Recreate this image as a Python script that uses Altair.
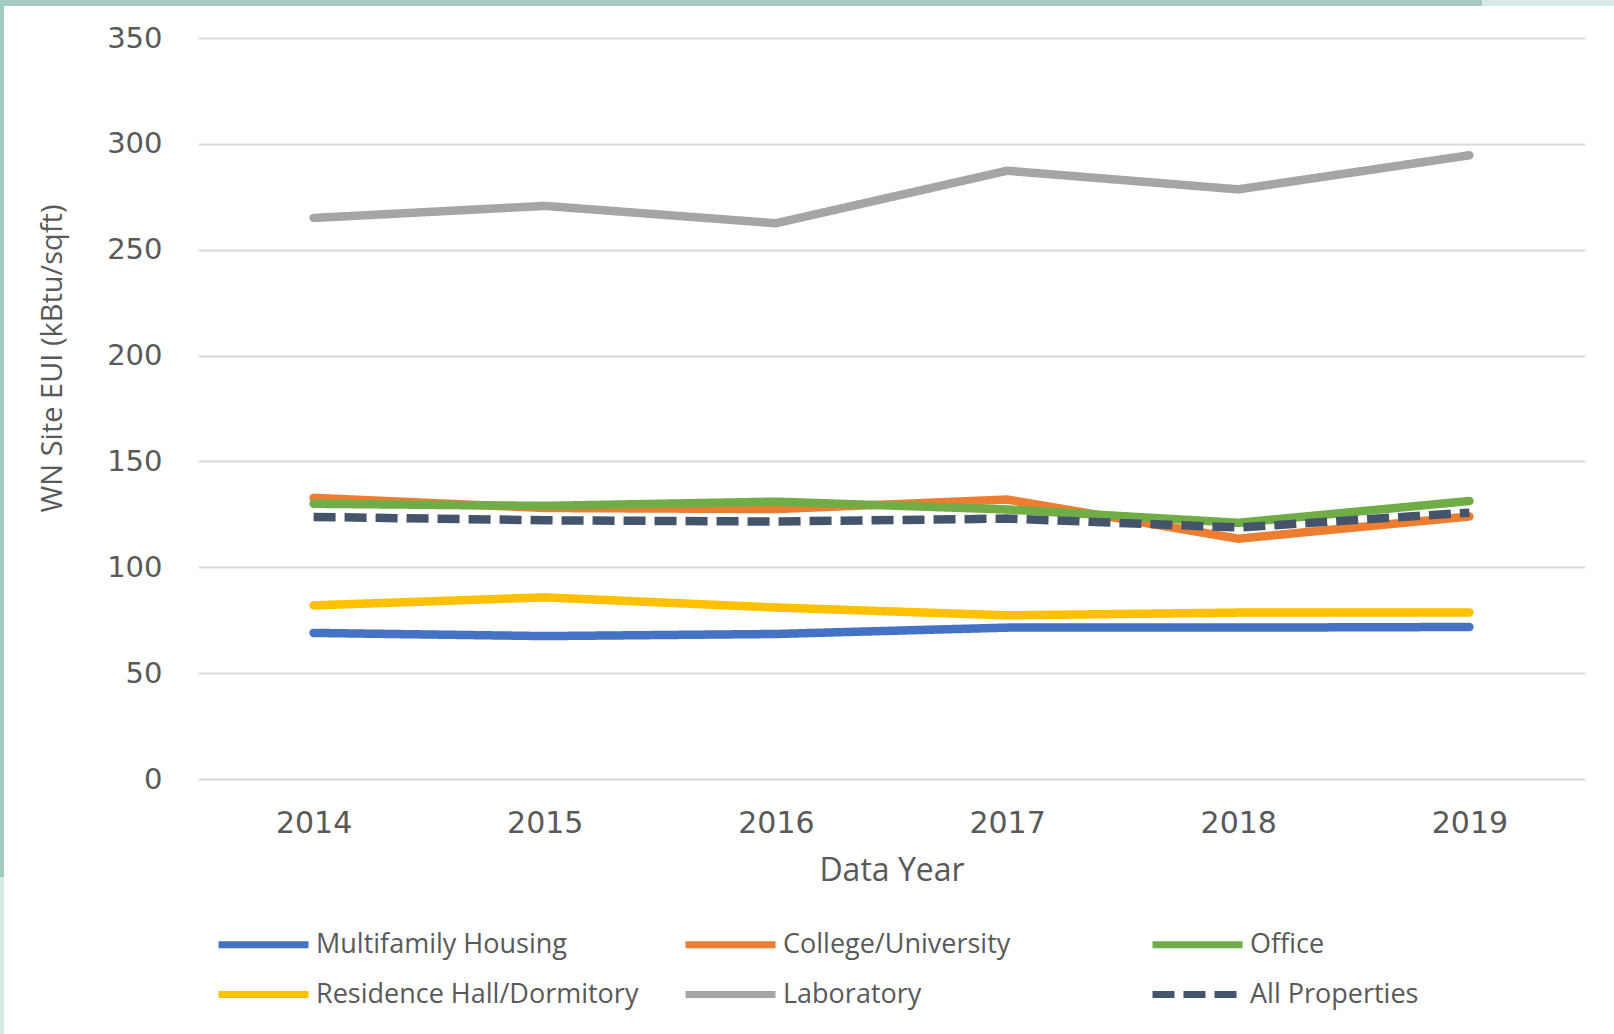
import altair as alt
import pandas as pd

years = ["2014", "2015", "2016", "2017", "2018", "2019"]
series_names = ["Multifamily Housing", "College/University", "Office",
                "Residence Hall/Dormitory", "Laboratory", "All Properties"]
multifamily = [69.0, 67.5, 68.5, 71.5, 71.5, 71.8]
college = [132.8, 128.0, 127.5, 132.0, 113.5, 124.0]
office = [130.0, 129.0, 131.0, 127.3, 121.0, 131.3]
residence = [82.0, 85.8, 81.0, 77.3, 78.6, 78.6]
laboratory = [265.0, 270.7, 262.5, 287.3, 278.5, 294.6]
all_props = [123.8, 122.2, 121.6, 123.0, 118.8, 125.8]

values = [multifamily, college, office, residence, laboratory, all_props]
colors = ["#4472C4", "#ED7D31", "#70AD47", "#FFC000", "#A5A5A5", "#44546A"]
dashes = [[1, 0], [1, 0], [1, 0], [1, 0], [1, 0], [22, 9]]

rows = []
for s_i, (name, vals) in enumerate(zip(series_names, values)):
    for y, v in zip(years, vals):
        rows.append({"series": name, "year": y, "eui": v, "ord": s_i})
df = pd.DataFrame(rows)

W, H = 1387, 741
PL, PT = 198, 38

legend_kw = dict(orient="none", legendX=52, legendY=893, columns=3,
                 direction="horizontal", title=None,
                 symbolType="M-4.5,0H4.5", symbolSize=400, symbolStrokeWidth=7,
                 labelFont="Open Sans", labelFontSize=27, labelColor="#595959",
                 labelLimit=500, gridAlign="all", columnPadding=32, rowPadding=21,
                 labelOffset=39)

x_enc = alt.X("year:O", scale=alt.Scale(type="point", padding=0.5),
              axis=alt.Axis(title="Data Year", labelAngle=0, grid=False, domain=False, ticks=False,
                            labelFont="DejaVu Sans", labelFontSize=30, labelColor="#595959",
                            labelPadding=29, titleFont="Open Sans", titleFontSize=32,
                            titleColor="#595959", titleFontWeight="normal", titlePadding=17))
y_enc = alt.Y("eui:Q", scale=alt.Scale(domain=[0, 350]),
              axis=alt.Axis(title="WN Site EUI (kBtu/sqft)", values=[0, 50, 100, 150, 200, 250, 300, 350],
                            grid=True, gridColor="#D9D9D9", gridWidth=2, domain=False, ticks=False,
                            labelFont="DejaVu Sans", labelFontSize=29, labelColor="#595959",
                            labelPadding=36, titleFont="Open Sans", titleFontSize=29,
                            titleColor="#595959", titleFontWeight="normal",
                            titleX=-146, titleY=320, titleAngle=270, titleAlign="center",
                            titleBaseline="middle"))
color_enc = alt.Color("series:N", scale=alt.Scale(domain=series_names, range=colors),
                      legend=alt.Legend(**legend_kw))
dash_enc = alt.StrokeDash("series:N", scale=alt.Scale(domain=series_names, range=dashes),
                          legend=alt.Legend(**legend_kw))

base = alt.Chart(df).encode(x=x_enc, y=y_enc, color=color_enc, strokeDash=dash_enc,
                            detail="series:N", order="ord:Q")

solid = base.mark_line(strokeWidth=8.5, strokeCap="round", strokeJoin="round").transform_filter(
    alt.datum.series != "All Properties")
dashed = base.mark_line(strokeWidth=8.5, strokeCap="butt", strokeJoin="round").transform_filter(
    alt.datum.series == "All Properties")

deco = pd.DataFrame({"k": [0]})
top_bar = alt.Chart(deco).mark_rect(color="#A3CBC4").encode(
    x=alt.value(-PL), x2=alt.value(1482 - PL), y=alt.value(-PT), y2=alt.value(6 - PT))
top_bar2 = alt.Chart(deco).mark_rect(color="#D6E9E6").encode(
    x=alt.value(1482 - PL), x2=alt.value(1614 - PL), y=alt.value(-PT), y2=alt.value(6 - PT))
left_bar = alt.Chart(deco).mark_rect(color="#A3CBC4").encode(
    x=alt.value(-PL), x2=alt.value(4 - PL), y=alt.value(-PT), y2=alt.value(877 - PT))
left_bar2 = alt.Chart(deco).mark_rect(color="#D6E9E6").encode(
    x=alt.value(-PL), x2=alt.value(4 - PL), y=alt.value(877 - PT), y2=alt.value(1034 - PT))

chart = alt.layer(solid, dashed, top_bar, top_bar2, left_bar, left_bar2).properties(
    width=W, height=H,
    autosize=alt.AutoSizeParams(type="none"),
    padding={"left": PL, "top": PT, "right": 1614 - PL - W, "bottom": 1034 - PT - H},
    background="white",
).configure_view(stroke=None)

chart.save("out.html", embed_options={"renderer": "svg", "actions": False})
